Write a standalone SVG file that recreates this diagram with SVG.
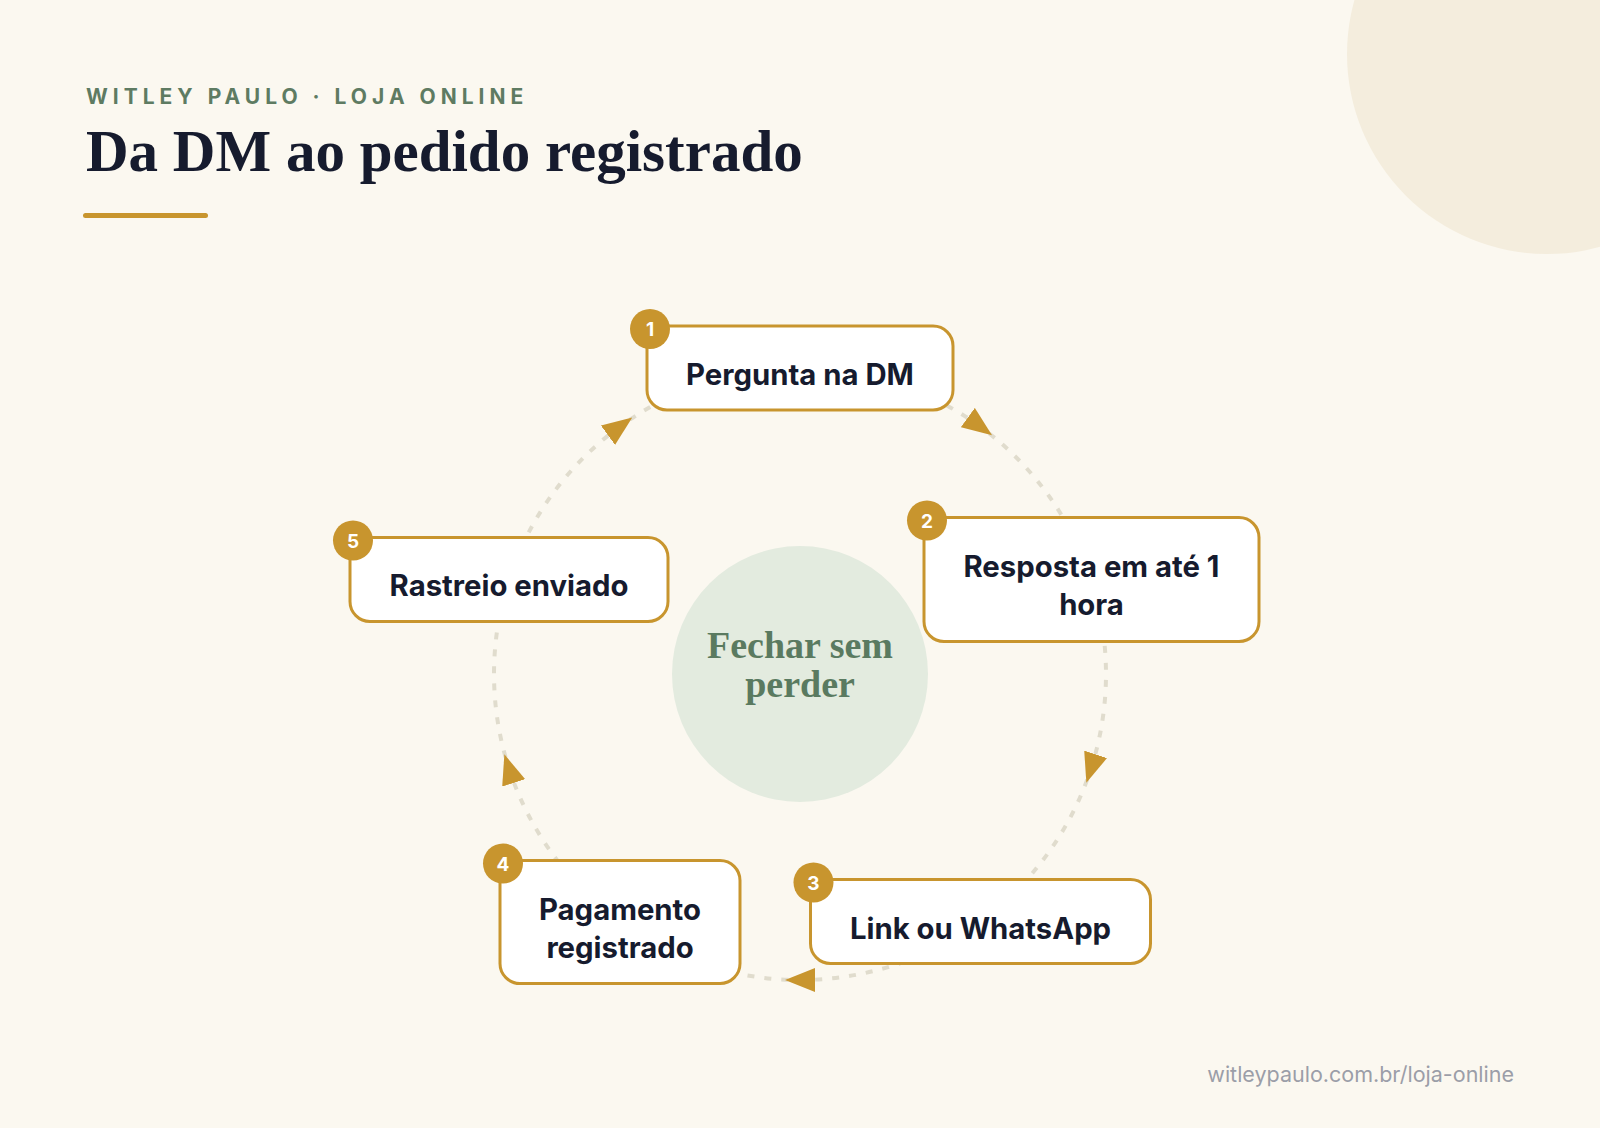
<svg xmlns="http://www.w3.org/2000/svg" width="1600" height="1128" viewBox="0 0 1600 1128">
  <defs>
    <style>
      .kicker { font-family: Inter, "Liberation Sans", sans-serif; font-weight: 700; font-size: 21px; letter-spacing: 5px; fill: #5e7b62; }
      .title { font-family: "Liberation Serif", "DejaVu Serif", serif; font-weight: 700; font-size: 59px; fill: #161b2e; }
      .hub { font-family: "Liberation Serif", "DejaVu Serif", serif; font-weight: 700; font-size: 38px; fill: #5a7a60; text-anchor: middle; }
      .box { fill: #ffffff; stroke: #c8952e; stroke-width: 3; }
      .label { font-family: Inter, "Liberation Sans", sans-serif; font-weight: 700; font-size: 29.3px; fill: #161b2e; text-anchor: middle; }
      .badge { fill: #c8952e; }
      .num { font-family: Inter, "Liberation Sans", sans-serif; font-weight: 700; font-size: 19px; fill: #ffffff; text-anchor: middle; }
      .edge { fill: none; stroke: #e0dccd; stroke-width: 4; stroke-dasharray: 7 10; marker-mid: url(#arrow); }
      .footer { font-family: Inter, "Liberation Sans", sans-serif; font-size: 21.5px; fill: #9b9ea8; text-anchor: end; }
    </style>
    <marker id="arrow" markerUnits="userSpaceOnUse" viewBox="0 0 30 24" markerWidth="30" markerHeight="24" refX="15" refY="12" orient="auto">
      <path d="M0,0 L30,12 L0,24 Z" fill="#c8952e"/>
    </marker>
  </defs>

  <rect x="0" y="0" width="1600" height="1128" fill="#fbf8f0"/>
  <circle cx="1547" cy="54" r="200" fill="#f4eddd"/>

  <g id="header">
    <text class="kicker" x="86" y="104">WITLEY PAULO · LOJA ONLINE</text>
    <text class="title" x="86" y="171">Da DM ao pedido registrado</text>
    <line x1="85.5" y1="215.5" x2="205.5" y2="215.5" stroke="#c8952e" stroke-width="5" stroke-linecap="round"/>
  </g>

  <g id="connectors">
    <path id="e1-2" class="edge" d="M800,368 A306,306 0 0 1 979.9,426.4 A306,306 0 0 1 1091,579.4"/>
    <path id="e2-3" class="edge" d="M1091,579.4 A306,306 0 0 1 1091,768.6 A306,306 0 0 1 979.9,921.6"/>
    <path id="e3-4" class="edge" d="M979.9,921.6 A306,306 0 0 1 800,980 A306,306 0 0 1 620.1,921.6"/>
    <path id="e4-5" class="edge" d="M620.1,921.6 A306,306 0 0 1 509,768.6 A306,306 0 0 1 509,579.4"/>
    <path id="e5-1" class="edge" d="M509,579.4 A306,306 0 0 1 620.1,426.4 A306,306 0 0 1 800,368"/>
  </g>

  <g id="hub">
    <circle cx="800" cy="674" r="128" fill="#e3ebdf"/>
    <text class="hub" x="800" y="658">Fechar sem</text>
    <text class="hub" x="800" y="697">perder</text>
  </g>

  <g id="node1">
    <rect class="box" x="647" y="326" width="306" height="84" rx="20"/>
    <text class="label" x="800" y="385">Pergunta na DM</text>
    <circle class="badge" cx="650" cy="329" r="20"/>
    <text class="num" x="650" y="336">1</text>
  </g>

  <g id="node2">
    <rect class="box" x="924" y="517.5" width="335" height="124" rx="20"/>
    <text class="label" x="1091.5" y="577">Resposta em até 1</text>
    <text class="label" x="1091.5" y="615">hora</text>
    <circle class="badge" cx="927" cy="520.5" r="20"/>
    <text class="num" x="927" y="527.5">2</text>
  </g>

  <g id="node3">
    <rect class="box" x="810.5" y="879.5" width="340" height="84" rx="20"/>
    <text class="label" x="980.5" y="939">Link ou WhatsApp</text>
    <circle class="badge" cx="813.5" cy="882.5" r="20"/>
    <text class="num" x="813.5" y="889.5">3</text>
  </g>

  <g id="node4">
    <rect class="box" x="500" y="860.5" width="240" height="123" rx="20"/>
    <text class="label" x="620" y="920">Pagamento</text>
    <text class="label" x="620" y="958">registrado</text>
    <circle class="badge" cx="503" cy="863.5" r="20"/>
    <text class="num" x="503" y="870.5">4</text>
  </g>

  <g id="node5">
    <rect class="box" x="350" y="537.5" width="318" height="84" rx="20"/>
    <text class="label" x="509" y="596">Rastreio enviado</text>
    <circle class="badge" cx="353" cy="540.5" r="20"/>
    <text class="num" x="353" y="547.5">5</text>
  </g>

  <text class="footer" x="1514" y="1082">witleypaulo.com.br/loja-online</text>
</svg>
